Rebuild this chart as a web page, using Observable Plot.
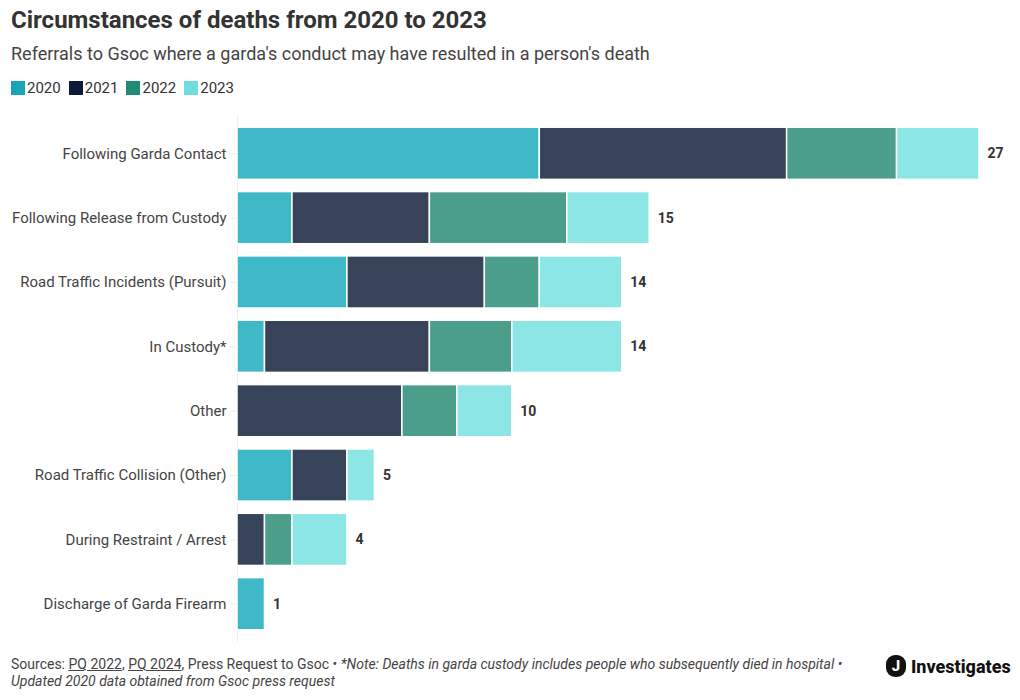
<!DOCTYPE html>
<html><head><meta charset="utf-8">
<script src="https://cdn.jsdelivr.net/npm/d3@7"></script>
<script src="https://cdn.jsdelivr.net/npm/@observablehq/plot@0.6"></script>
<style>
body{margin:0;background:#fff;font-family:Roboto,"Noto Sans",sans-serif;color:#333;width:1020px;height:700px;position:relative;overflow:hidden}
#title{position:absolute;left:11px;top:6px;font-size:24px;font-weight:700;color:#333}
#sub{position:absolute;left:11px;top:43px;font-size:18px;color:#444}
#legend{position:absolute;left:11px;top:79px;font-size:15px;color:#333;display:flex;gap:8px}
#legend span.sw{display:inline-block;width:14px;height:14px;vertical-align:-2px;margin-right:2px}
#chart{position:absolute;left:0;top:100px}
#foot{position:absolute;left:11px;top:656px;font-size:14px;color:#444;line-height:17px;width:835px}
#foot u{text-decoration:underline}
#logo{position:absolute;left:886px;top:655px;font-size:18px;font-weight:800;color:#111;display:flex;align-items:center;gap:5px}
#logo .j{display:inline-block;width:20px;height:22px;background:#111;color:#fff;border-radius:9px;text-align:center;font-size:15px;line-height:22px}
</style></head><body>
<div id="title">Circumstances of deaths from 2020 to 2023</div>
<div id="sub">Referrals to Gsoc where a garda's conduct may have resulted in a person's death</div>
<div id="legend"></div>
<div id="chart"></div>
<div id="foot">Sources: <u>PQ 2022</u>, <u>PQ 2024</u>, Press Request to Gsoc • <i>*Note: Deaths in garda custody includes people who subsequently died in hospital • Updated 2020 data obtained from Gsoc press request</i></div>
<div id="logo"><span class="j">J</span>Investigates</div>
<script>
const categories = ["Following Garda Contact","Following Release from Custody","Road Traffic Incidents (Pursuit)","In Custody*","Other","Road Traffic Collision (Other)","During Restraint / Arrest","Discharge of Garda Firearm"];
const years = ["2020","2021","2022","2023"];
const v2020 = [11,2,4,1,0,2,0,1];
const v2021 = [9,5,5,6,6,2,1,0];
const v2022 = [4,5,2,3,2,0,1,0];
const v2023 = [3,3,3,4,2,1,2,0];
const legendColors = ["#1aa4b8","#0c1b3a","#1f8c72","#70dede"];
const barColors = ["#3fb8c8","#364359","#4a9e8a","#8ce6e6"];

const series = [v2020,v2021,v2022,v2023];
const rows = [];
categories.forEach((c,i)=>years.forEach((y,j)=>{ if(series[j][i]>0) rows.push({cat:c,year:y,value:series[j][i]}); }));
const totals = categories.map((c,i)=>({cat:c,total:series.reduce((s,a)=>s+a[i],0)}));

const lg = document.getElementById("legend");
years.forEach((y,i)=>{const d=document.createElement("span");d.innerHTML=`<span class="sw" style="background:${legendColors[i]}"></span>${y}`;lg.appendChild(d);});

const chart = Plot.plot({
  width:1020, height:543,
  marginLeft:237, marginRight:41, marginTop:15, marginBottom:1,
  style:{fontFamily:"Roboto, 'Noto Sans', sans-serif", fontSize:"15px", color:"#444", background:"#fff"},
  x:{domain:[0,27], axis:null},
  y:{domain:categories, padding:0.19, label:null, round:false},
  color:{domain:years, range:barColors},
  marks:[
    Plot.ruleX([0],{stroke:"#eee"}),
    Plot.barX(rows, Plot.stackX({x:"value", y:"cat", fill:"year", order:years, stroke:"#fff", strokeWidth:1.5})),
    Plot.text(totals,{x:"total", y:"cat", text:d=>String(d.total), dx:8, textAnchor:"start", fontWeight:700, fontSize:14, fill:"#333"}),
    Plot.axisY({tickSize:7, tickPadding:4, stroke:"#eee", fontSize:15, color:"#444", label:null})
  ]
});
document.getElementById("chart").appendChild(chart);
</script>
</body></html>
